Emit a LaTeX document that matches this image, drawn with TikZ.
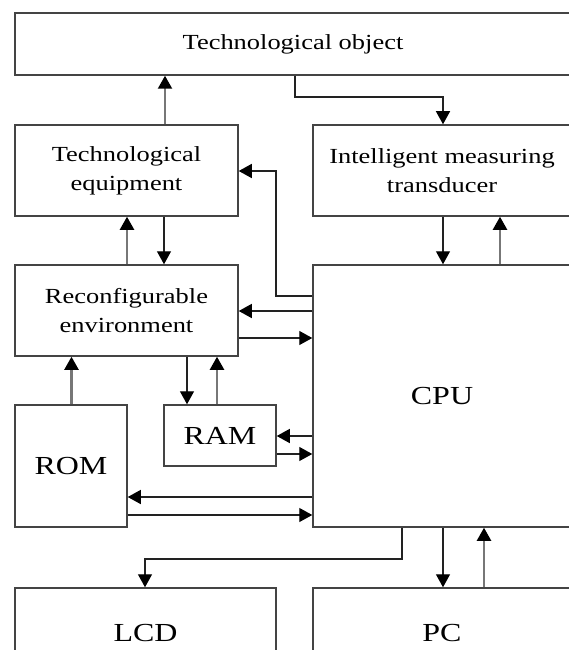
\documentclass[tikz,border=0pt]{standalone}
\usepackage{fontspec}
\setmainfont[FakeStretch=1.23]{Liberation Serif}
\usetikzlibrary{arrows.meta}
\definecolor{lc}{HTML}{222222}
\definecolor{lg}{HTML}{777777}
\definecolor{bc}{HTML}{444444}
\tikzset{
  blk/.style={draw=bc, line width=1.5pt, inner sep=0pt, align=center, fill=white},
  small/.style={font=\fontsize{21.5}{29}\selectfont},
  big/.style={font=\fontsize{26}{30}\selectfont},
  arr/.style={draw=lc, line width=1.3pt, -{Triangle[width=14pt,length=13pt,color=black]}},
  arrg/.style={draw=lg, line width=2.2pt, -{Triangle[width=14pt,length=13pt,color=black]}},
}
\begin{document}
\begin{tikzpicture}[x=1pt,y=-1pt]
\useasboundingbox (0,0) rectangle (569,650);
\clip (0,0) rectangle (569,650);
\fill[white] (0,0) rectangle (569,650);
% blocks
\node[blk,small,minimum width=556pt,minimum height=62pt] (top) at (293,44) {Technological object};
\node[blk,small,minimum width=223pt,minimum height=91pt] (te) at (126.5,170.5) {Technological\\equipment};
\node[blk,small,minimum width=258pt,minimum height=91pt] (imt) at (442,170.5) {Intelligent measuring\\transducer};
\node[blk,small,minimum width=223pt,minimum height=91pt] (re) at (126.5,310.5) {Reconfigurable\\environment};
\node[blk,big,minimum width=258pt,minimum height=262pt] (cpu) at (442,396) {CPU};
\node[blk,big,minimum width=112pt,minimum height=122pt] (rom) at (71,466) {ROM};
\node[blk,big,minimum width=112pt,minimum height=61pt] (ram) at (220,435.5) {RAM};
\node[blk,big,minimum width=261pt,minimum height=90pt] (lcd) at (145.5,633) {LCD};
\node[blk,big,minimum width=258pt,minimum height=90pt] (pc) at (442,633) {PC};
% connectors
\draw[arrg] (te.north -| 165,0) -- (top.south -| 165,0);
\draw[arr] (top.south -| 295,0) |- (443,97) -- (imt.north -| 443,0);
\draw[arr] (cpu.west |- 0,296) -| (276,171) -- (te.east |- 0,171);
\draw[arr] (te.south -| 164,0) -- (re.north -| 164,0);
\draw[arrg] (re.north -| 127,0) -- (te.south -| 127,0);
\draw[arr] (imt.south -| 443,0) -- (cpu.north -| 443,0);
\draw[arrg] (cpu.north -| 500,0) -- (imt.south -| 500,0);
\draw[arr] (cpu.west |- 0,311) -- (re.east |- 0,311);
\draw[arr] (re.east |- 0,338) -- (cpu.west |- 0,338);
\draw[arrg] (rom.north -| 71.5,0) -- (re.south -| 71.5,0);
\draw[arr] (re.south -| 187,0) -- (ram.north -| 187,0);
\draw[arrg] (ram.north -| 217,0) -- (re.south -| 217,0);
\draw[arr] (cpu.west |- 0,436) -- (ram.east |- 0,436);
\draw[arr] (ram.east |- 0,454) -- (cpu.west |- 0,454);
\draw[arr] (cpu.west |- 0,497) -- (rom.east |- 0,497);
\draw[arr] (rom.east |- 0,515) -- (cpu.west |- 0,515);
\draw[arr] (cpu.south -| 402,0) |- (145,559) -- (lcd.north -| 145,0);
\draw[arr] (cpu.south -| 443,0) -- (pc.north -| 443,0);
\draw[arrg] (pc.north -| 484,0) -- (cpu.south -| 484,0);
\end{tikzpicture}
\end{document}
